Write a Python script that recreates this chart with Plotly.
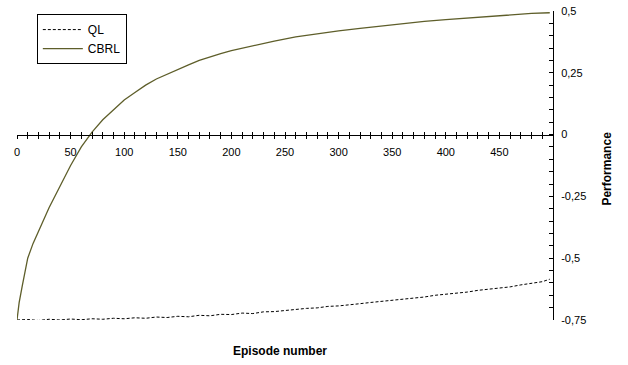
import plotly.graph_objects as go

# ---- data ----
cbrl_episodes = [0, 2, 5, 10, 15, 20, 30, 40, 50, 60, 70, 80, 90, 100, 110, 120, 130, 140,
                 150, 160, 170, 180, 190, 200, 220, 240, 260, 280, 300, 320, 340, 360,
                 380, 400, 420, 440, 460, 480, 497]
cbrl_values = [-0.75, -0.68, -0.61, -0.50, -0.44, -0.39, -0.295, -0.21, -0.125, -0.05, 0.01,
               0.06, 0.10, 0.14, 0.17, 0.20, 0.225, 0.245, 0.265, 0.282, 0.30, 0.315, 0.328,
               0.34, 0.36, 0.378, 0.395, 0.408, 0.42, 0.43, 0.44, 0.45, 0.458, 0.465, 0.472,
               0.478, 0.485, 0.49, 0.493]

ql_episodes = [0, 10, 20, 30, 40, 50, 60, 70, 80, 90, 100, 110, 120, 130, 140, 150, 160, 170,
               180, 190, 200, 210, 220, 230, 240, 250, 260, 270, 280, 290, 300, 310, 320, 330,
               340, 350, 360, 370, 380, 390, 400, 410, 420, 430, 440, 450, 460, 470, 480, 490, 497]
ql_values = [-0.750, -0.748, -0.752, -0.747, -0.750, -0.746, -0.749, -0.745, -0.747, -0.743,
             -0.745, -0.741, -0.743, -0.738, -0.740, -0.735, -0.737, -0.731, -0.733, -0.727,
             -0.728, -0.722, -0.724, -0.717, -0.716, -0.711, -0.709, -0.703, -0.701, -0.695,
             -0.693, -0.687, -0.684, -0.679, -0.675, -0.670, -0.666, -0.660, -0.657, -0.650,
             -0.646, -0.640, -0.637, -0.630, -0.626, -0.620, -0.616, -0.608, -0.603, -0.595,
             -0.585]

x_tick_vals = [0, 50, 100, 150, 200, 250, 300, 350, 400, 450]
x_tick_text = ["0", "50", "100", "150", "200", "250", "300", "350", "400", "450"]
y_tick_vals = [0.5, 0.25, 0, -0.25, -0.5, -0.75]
y_tick_text = ["0,5", "0,25", "0", "-0,25", "-0,5", "-0,75"]

Y_MIN, Y_MAX = -0.75, 0.5
zero_pos = (0 - Y_MIN) / (Y_MAX - Y_MIN)

fig = go.Figure()
fig.add_trace(go.Scatter(x=ql_episodes, y=ql_values, mode="lines", name="QL",
                         line=dict(color="#000000", width=1, dash="3px,2px")))
fig.add_trace(go.Scatter(x=cbrl_episodes, y=cbrl_values, mode="lines", name="CBRL",
                         line=dict(color="#5e5e2a", width=1.3)))

tick_font = dict(family="Liberation Sans, Arial, sans-serif", size=11, color="#000000")
title_font = dict(family="Liberation Sans Narrow, Arial Narrow, Liberation Sans, sans-serif",
                  size=12, color="#000000")

fig.update_layout(
    width=628, height=365,
    margin=dict(l=17, r=75, t=11, b=45, autoexpand=False),
    plot_bgcolor="white", paper_bgcolor="white",
    showlegend=True,
    legend=dict(x=0.037, y=0.99, xanchor="left", yanchor="top",
                bgcolor="white", bordercolor="#000000", borderwidth=1,
                font=dict(family="Liberation Sans, Arial, sans-serif", size=12, color="#000000"),
                tracegroupgap=0, itemwidth=40),
    xaxis=dict(range=[0, 500], anchor="free", position=zero_pos, automargin=False,
               showgrid=False, zeroline=False,
               showline=True, linecolor="#000000", linewidth=1,
               tickmode="array", tickvals=x_tick_vals, ticktext=x_tick_text,
               ticks="outside", ticklen=3, tickcolor="#000000", tickwidth=1,
               minor=dict(dtick=10, tick0=0, ticks="outside", ticklen=3, tickcolor="#000000"),
               ticklabelstandoff=4, tickfont=tick_font),
    xaxis2=dict(range=[0, 500], overlaying="x", anchor="free", position=zero_pos,
                automargin=False,
                side="bottom", showgrid=False, zeroline=False, showline=False,
                showticklabels=False, tick0=0, dtick=10,
                ticks="inside", ticklen=3, tickcolor="#000000", tickwidth=1),
    yaxis=dict(range=[Y_MIN, Y_MAX], side="right", anchor="x", automargin=False,
               showgrid=False, zeroline=False,
               showline=True, linecolor="#000000", linewidth=1,
               tickmode="array", tickvals=y_tick_vals, ticktext=y_tick_text,
               ticks="inside", ticklen=4, tickcolor="#000000",
               minor=dict(dtick=0.05, tick0=0, ticks="inside", ticklen=4, tickcolor="#000000"),
               ticklabelstandoff=5, tickfont=tick_font),
    annotations=[
        dict(text="<b>Episode number</b>", xref="paper", yref="paper", x=0.49, y=-0.1,
             xanchor="center", yanchor="middle", showarrow=False, font=title_font),
        dict(text="<b>Performance</b>", xref="paper", yref="paper", x=1.1007, y=0.49,
             xanchor="center", yanchor="middle", showarrow=False, textangle=-90,
             font=title_font),
    ],
)
# invisible helper trace so the overlaid tick axis is drawn
fig.add_trace(go.Scatter(x=[0], y=[0], xaxis="x2", mode="markers", marker=dict(opacity=0),
                         showlegend=False, hoverinfo="skip"))

# remove the browser's default 8px body margin so the figure fills the window
fig.write_html("out.html", config={"displayModeBar": False},
               post_script="document.body.style.margin='0';")
